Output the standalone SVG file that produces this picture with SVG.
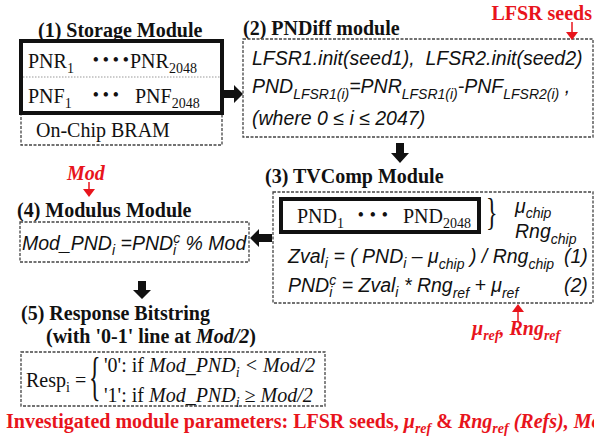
<svg xmlns="http://www.w3.org/2000/svg" width="594" height="443" viewBox="0 0 594 443">
<style>
.t{font-family:"Liberation Serif",serif;font-weight:bold;font-size:20px;fill:#111}
.s{font-family:"Liberation Serif",serif;font-size:20px;fill:#111}
.e{font-family:"Liberation Sans",Arial,sans-serif;font-style:italic;font-size:19.5px;fill:#111}
.si{font-family:"Liberation Serif",serif;font-style:italic;font-size:20px;fill:#111}
.sub{font-size:14px}
.dots{font-family:"Liberation Serif",serif;font-weight:bold;font-size:16px;fill:#111;letter-spacing:4.4px}
.brace{font-family:"Liberation Serif",serif;font-size:24px;fill:#111}
.red{fill:#e8141c}
.dash{fill:#fff;stroke:#444;stroke-width:1.3;stroke-dasharray:3,1.5}
.thick{fill:none;stroke:#111;stroke-width:4}
.arr{fill:#111}
.rarr{fill:#e8141c}
.rl{stroke:#e8141c;stroke-width:1.5}
</style>
<rect width="594" height="443" fill="#fff"/>

<g id="storage">
  <text class="t" x="38" y="37">(1) Storage Module</text>
  <rect class="dash" x="21" y="113" width="201" height="32"/>
  <rect class="thick" x="21" y="41" width="201" height="72"/>
  <line x1="23" y1="77" x2="220" y2="77" stroke="#999" stroke-width="1" stroke-dasharray="1.5,1.5"/>
  <text class="s" x="28" y="68">PNR<tspan class="sub" dy="5">1</tspan></text>
  <text class="dots" x="93" y="65">••••</text>
  <text class="s" x="130" y="68">PNR<tspan class="sub" dy="5">2048</tspan></text>
  <text class="s" x="28" y="103">PNF<tspan class="sub" dy="5">1</tspan></text>
  <text class="dots" x="93" y="100">•••</text>
  <text class="s" x="135" y="103">PNF<tspan class="sub" dy="5">2048</tspan></text>
  <text class="s" x="36" y="137">On-Chip BRAM</text>
</g>

<g id="pndiff">
  <text class="t" x="243" y="35">(2) PNDiff module</text>
  <text class="t red" x="592" y="20" text-anchor="end">LFSR seeds</text>
  <rect class="dash" x="243" y="39" width="350" height="98"/>
  <text class="e" x="252" y="65">LFSR1.init(seed1),&#160; LFSR2.init(seed2)</text>
  <text class="e" x="252" y="93">PND<tspan class="sub" dy="6">LFSR1(i)</tspan><tspan dy="-6">=PNR</tspan><tspan class="sub" dy="6">LFSR1(i)</tspan><tspan dy="-6">-PNF</tspan><tspan class="sub" dy="6">LFSR2(i)</tspan><tspan dy="-6"> ,</tspan></text>
  <text class="e" x="252" y="125">(where 0 ≤ i ≤ 2047)</text>
</g>

<g id="tvcomp">
  <text class="t" x="265" y="183">(3) TVComp Module</text>
  <rect class="dash" x="273" y="192" width="320" height="111"/>
  <rect class="thick" x="281" y="199" width="198" height="33"/>
  <text class="s" x="297" y="223">PND<tspan class="sub" dy="5">1</tspan></text>
  <text class="dots" x="358" y="220" style="letter-spacing:6.4px">•••</text>
  <text class="s" x="403" y="223">PND<tspan class="sub" dy="5">2048</tspan></text>
  <text class="brace" transform="translate(486,225) scale(1,1.6)">}</text>
  <text class="e" x="515" y="213">μ<tspan class="sub" dy="5">chip</tspan></text>
  <text class="e" x="515" y="238">Rng<tspan class="sub" dy="6">chip</tspan></text>
  <text class="e" x="288" y="263">Zval<tspan class="sub" dy="5">i</tspan><tspan dy="-5"> = ( PND</tspan><tspan class="sub" dy="5">i</tspan><tspan dy="-5"> – μ</tspan><tspan class="sub" dy="6">chip</tspan><tspan dy="-6"> ) / Rng</tspan><tspan class="sub" dy="6">chip</tspan></text>
  <text class="e" x="564" y="263">(1)</text>
  <text class="e" x="288" y="292">PND<tspan class="sub" dy="5">i</tspan><tspan class="sub" dx="-3" dy="-12">c</tspan><tspan dy="7"> = Zval</tspan><tspan class="sub" dy="5">i</tspan><tspan dy="-5"> * Rng</tspan><tspan class="sub" dy="6">ref</tspan><tspan dy="-6"> + μ</tspan><tspan class="sub" dy="6">ref</tspan></text>
  <text class="e" x="564" y="292">(2)</text>
  <text class="si red" x="472" y="335" font-weight="bold">μ<tspan class="sub" dy="5">ref</tspan><tspan dy="-5">, Rng</tspan><tspan class="sub" dy="5">ref</tspan></text>
</g>

<g id="modulus">
  <text class="si red" x="67" y="180" font-weight="bold">Mod</text>
  <text class="t" x="17" y="217">(4) Modulus Module</text>
  <rect class="dash" x="20" y="222" width="229" height="40"/>
  <text class="e" x="22" y="250">Mod_PND<tspan class="sub" dy="5">i</tspan><tspan dy="-5"> =PND</tspan><tspan class="sub" dy="5">i</tspan><tspan class="sub" dx="-3" dy="-12">c</tspan><tspan dy="7"> % Mod</tspan></text>
</g>

<g id="response">
  <text class="t" x="21" y="320">(5) Response Bitstring</text>
  <text class="t" x="46" y="343">(with '0-1' line at <tspan font-style="italic">Mod/2</tspan>)</text>
  <rect class="dash" x="21" y="352" width="304" height="54"/>
  <text class="s" x="26" y="387">Resp<tspan class="sub" dy="5">i</tspan><tspan dy="-5"> =</tspan></text>
  <text class="brace" transform="translate(89,394) scale(1,2.2)">{</text>
  <text class="s" x="104" y="372">'0': if <tspan font-style="italic">Mod_PND</tspan><tspan class="sub" font-style="italic" dy="5">i</tspan><tspan dy="-5" font-style="italic"> &lt; Mod/2</tspan></text>
  <text class="s" x="104" y="402">'1': if <tspan font-style="italic">Mod_PND</tspan><tspan class="sub" font-style="italic" dy="5">i</tspan><tspan dy="-5" font-style="italic"> ≥ Mod/2</tspan></text>
</g>

<g id="footer">
  <text class="t red" x="6" y="428">Investigated module parameters: LFSR seeds, <tspan font-style="italic">μ</tspan><tspan class="sub" font-style="italic" dy="5">ref</tspan><tspan dy="-5"> &amp; </tspan><tspan font-style="italic">Rng</tspan><tspan class="sub" font-style="italic" dy="5">ref</tspan><tspan font-style="italic" dy="-5"> (Refs), Mod</tspan></text>
</g>

<g id="connectors">
  <polygon class="arr" points="223,90 234,90 234,85 243,94 234,103 234,98 223,98"/>
  <polygon class="arr" points="396,143 404,143 404,153 409,153 400,163 391,153 396,153"/>
  <polygon class="arr" points="272,234 259,234 259,229 250,238 259,247 259,242 272,242"/>
  <polygon class="arr" points="138,281 146,281 146,290 151,290 142,299 133,290 138,290"/>
  <line class="rl" x1="572" y1="22" x2="572" y2="33"/>
  <polygon class="rarr" points="566,32 578,32 572,40"/>
  <line class="rl" x1="89" y1="182" x2="89" y2="190"/>
  <polygon class="rarr" points="83,189 95,189 89,197"/>
  <line class="rl" x1="518" y1="322" x2="518" y2="311"/>
  <polygon class="rarr" points="512,312 524,312 518,304"/>
</g>
</svg>
